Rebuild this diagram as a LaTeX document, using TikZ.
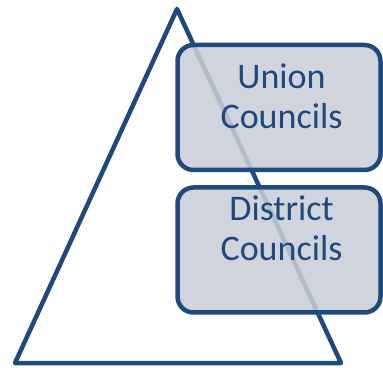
\documentclass[tikz,border=0pt]{standalone}
\usepackage{fontspec}
\setmainfont{Carlito}
\usepackage{xcolor}
\definecolor{tiernavy}{RGB}{31,73,125}
\definecolor{tiergray}{RGB}{201,206,215}
\tikzset{
  tier/.style={draw=tiernavy, line width=4.5pt, rounded corners=16pt,
    fill=tiergray, fill opacity=0.87, inner sep=0pt,
    minimum width=203pt, minimum height=125pt},
  tiertext/.style={text=tiernavy, align=center, inner sep=0pt,
    font=\fontsize{36}{40}\selectfont}
}

\begin{document}
\begin{tikzpicture}[x=1pt,y=1pt]
  \useasboundingbox (0,0) rectangle (383,367);
  % pyramid outline
  \draw[tiernavy, line width=4.5pt, line join=round]
    (15,4) -- (177,358) -- (341,4) -- cycle;
  % tiers on top of it
  \node[tier] (union) at (279,259.5) {};
  \node[tier] (district) at (279,117) {};
  \node[tiertext] (unionlbl) at (281.5,270.5) {Union\\Councils};
  \node[tiertext] (districtlbl) at (281.5,139) {District\\Councils};
\end{tikzpicture}
\end{document}
